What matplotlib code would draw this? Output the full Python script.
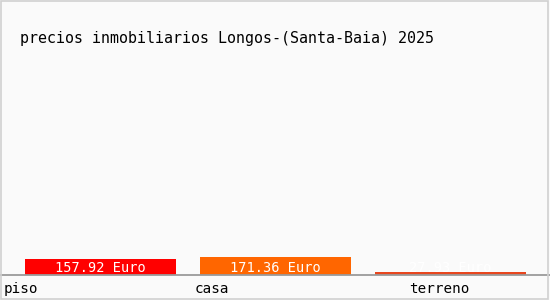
import matplotlib.pyplot as plt
from matplotlib.patches import Rectangle

categorias = ['piso', 'casa', 'terreno']
precios = [157.92, 171.36, 27.93]
etiquetas = ['157.92 Euro', '171.36 Euro', '27.93 Euro']
colores = ['#ff0000', '#ff6600', '#e8461e']
titulo = 'precios inmobiliarios Longos-(Santa-Baia) 2025'

fuente = 'DejaVu Sans Mono'

fig = plt.figure(figsize=(5.5, 3.0), dpi=100, facecolor='#fafafa')
# marco exterior
fig.patches.append(Rectangle((0.002, 0.003), 0.995, 0.994, transform=fig.transFigure,
                             fill=False, edgecolor='#d0d0d0', linewidth=1.2))

# ejes: base en y=275px, altura 215px
ax = fig.add_axes([0, 25 / 300, 1, 215 / 300])
ax.set_facecolor('none')
x = range(len(categorias))
ax.bar(x, precios, width=151 / 175, color=colores, zorder=2)
ax.set_xlim(-100.5 / 175, (550 - 100.5) / 175)
ax.set_ylim(0, 2080)
for s in ax.spines.values():
    s.set_visible(False)
ax.axhline(0, color='#9a9a9a', linewidth=1.3, zorder=3, clip_on=False)
ax.set_xticks([])
ax.set_yticks([])

# etiquetas de valor
for i, txt in enumerate(etiquetas):
    ax.annotate(txt, (i, 0), xytext=(0, 7), textcoords='offset pixels',
                ha='center', va='center', color='white', fontsize=9.8,
                family=fuente, zorder=4)

# nombres de categoría
pos_nombres = [-0.551, 0.537, 1.763]
for px, nombre in zip(pos_nombres, categorias):
    ax.annotate(nombre, (px, 0), xytext=(0, -14), textcoords='offset pixels',
                ha='left', va='center', color='black', fontsize=10.3, family=fuente)

fig.text(20 / 550, 1 - 39 / 300, titulo, ha='left', va='center',
         fontsize=10.8, family=fuente, color='black')

fig.savefig('out.png', dpi=100, facecolor=fig.get_facecolor())
